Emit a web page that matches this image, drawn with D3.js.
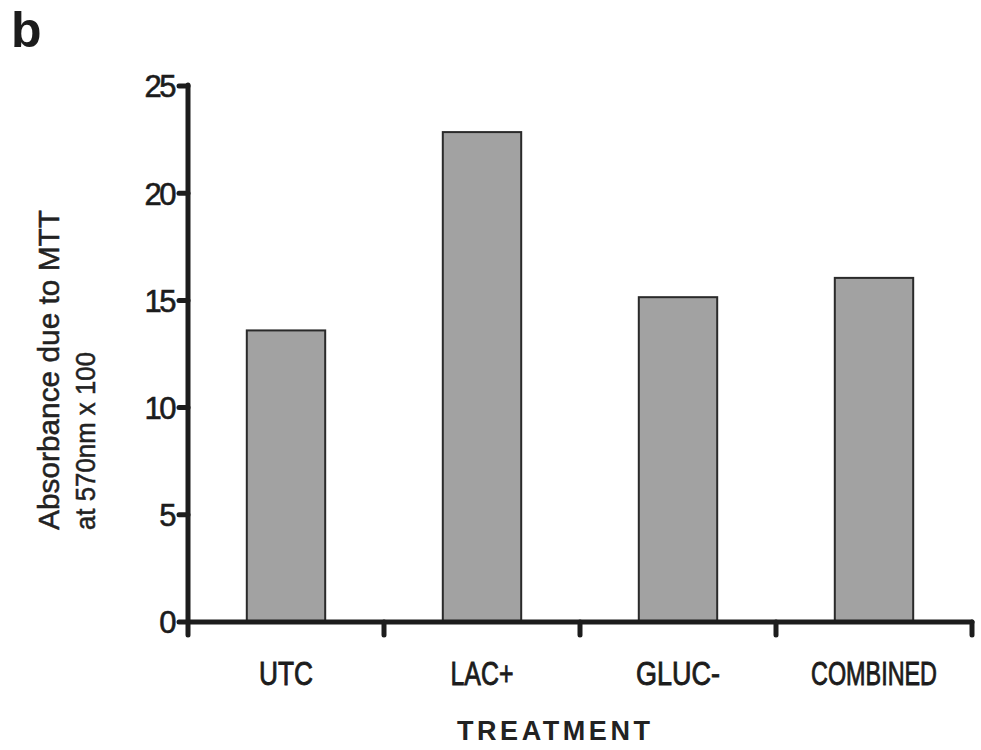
<!DOCTYPE html>
<html>
<head>
<meta charset="utf-8">
<script src="https://cdn.jsdelivr.net/npm/d3@7"></script>
<style>
  html, body { margin: 0; padding: 0; background: #fff; }
  svg { display: block; }
</style>
</head>
<body>
<svg id="chart" width="981" height="750"></svg>
<script>
const categories = ["UTC", "LAC+", "GLUC-", "COMBINED"];
const values = [13.6, 22.85, 15.15, 16.05];
const yTicks = [0, 5, 10, 15, 20, 25];
const labelWidths = [54, 63, 84, 126];

const svg = d3.select("#chart");
const ink = "#1c1c1c";
const font = "Liberation Sans, Arial, sans-serif";

const x = d3.scaleBand().domain(categories).range([188, 972]).paddingInner(0.6).paddingOuter(0.3);
const y = d3.scaleLinear().domain([0, 25]).range([622, 86]);

// panel letter
svg.append("text").attr("x", 11).attr("y", 47)
  .attr("font-family", font)
  .attr("font-weight", "bold").attr("font-size", 50).attr("fill", ink).text("b");

// bars
svg.append("g").selectAll("rect").data(categories).join("rect")
  .attr("x", d => x(d))
  .attr("y", (d, i) => y(values[i]))
  .attr("width", x.bandwidth())
  .attr("height", (d, i) => y(0) - y(values[i]))
  .attr("fill", "#a2a2a2")
  .attr("stroke", "#2a2a2a")
  .attr("stroke-width", 2);

// y axis line
const x0 = x.range()[0];
const x1 = x.range()[1];
svg.append("line").attr("x1", x0).attr("x2", x0).attr("y1", y(25) - 1).attr("y2", y(0) + 13)
  .attr("stroke", ink).attr("stroke-width", 5).attr("stroke-linecap", "round");
// x axis line
svg.append("line").attr("x1", x0).attr("x2", x1).attr("y1", y(0)).attr("y2", y(0))
  .attr("stroke", ink).attr("stroke-width", 5).attr("stroke-linecap", "round");

// y ticks
const yt = svg.append("g").selectAll("g").data(yTicks).join("g");
yt.append("line").attr("x1", x0 - 9).attr("x2", x0).attr("y1", d => y(d)).attr("y2", d => y(d))
  .attr("stroke", ink).attr("stroke-width", 5).attr("stroke-linecap", "round");
yt.append("text").attr("x", 174).attr("y", d => y(d)).attr("dy", "0.37em")
  .attr("text-anchor", "end")
  .attr("font-family", font)
  .attr("font-size", 31).attr("letter-spacing", -2.5).attr("fill", ink)
  .attr("stroke", ink).attr("stroke-width", 0.6)
  .text(d => d);

// x ticks at band boundaries
const step = x.step();
svg.append("g").selectAll("line").data(categories).join("line")
  .attr("x1", d => x(d) + x.bandwidth() + (step - x.bandwidth()) / 2)
  .attr("x2", d => x(d) + x.bandwidth() + (step - x.bandwidth()) / 2)
  .attr("y1", y(0)).attr("y2", y(0) + 13)
  .attr("stroke", ink).attr("stroke-width", 5).attr("stroke-linecap", "round");

// category labels (horizontally condensed via scale transform)
svg.append("g").selectAll("text").data(categories).join("text")
  .attr("text-anchor", "middle")
  .attr("font-family", font)
  .attr("font-size", 33).attr("fill", ink)
  .attr("stroke", ink).attr("stroke-width", 0.9)
  .text(d => d)
  .each(function(d, i) {
    const natural = this.getComputedTextLength();
    const sx = labelWidths[i] / natural;
    const cx = x(d) + x.bandwidth() / 2;
    d3.select(this).attr("transform", `translate(${cx},685) scale(${sx},1)`);
  });

// x title
svg.append("text").attr("x", 457).attr("y", 740)
  .attr("font-family", font)
  .attr("font-weight", "bold").attr("font-size", 27).attr("fill", "#222")
  .attr("textLength", 193).attr("lengthAdjust", "spacing")
  .text("TREATMENT");

// y title (two lines)
svg.append("text").attr("transform", "translate(59,530) rotate(-90)")
  .attr("font-family", font)
  .attr("font-size", 29).attr("fill", "#222")
  .attr("stroke", "#222").attr("stroke-width", 0.5)
  .attr("textLength", 320).attr("lengthAdjust", "spacingAndGlyphs")
  .text("Absorbance due to MTT");
svg.append("text").attr("transform", "translate(95,530) rotate(-90)")
  .attr("font-family", font)
  .attr("font-size", 28).attr("fill", "#222")
  .attr("stroke", "#222").attr("stroke-width", 0.5)
  .attr("textLength", 178).attr("lengthAdjust", "spacingAndGlyphs")
  .text("at 570nm x 100");
</script>
</body>
</html>
